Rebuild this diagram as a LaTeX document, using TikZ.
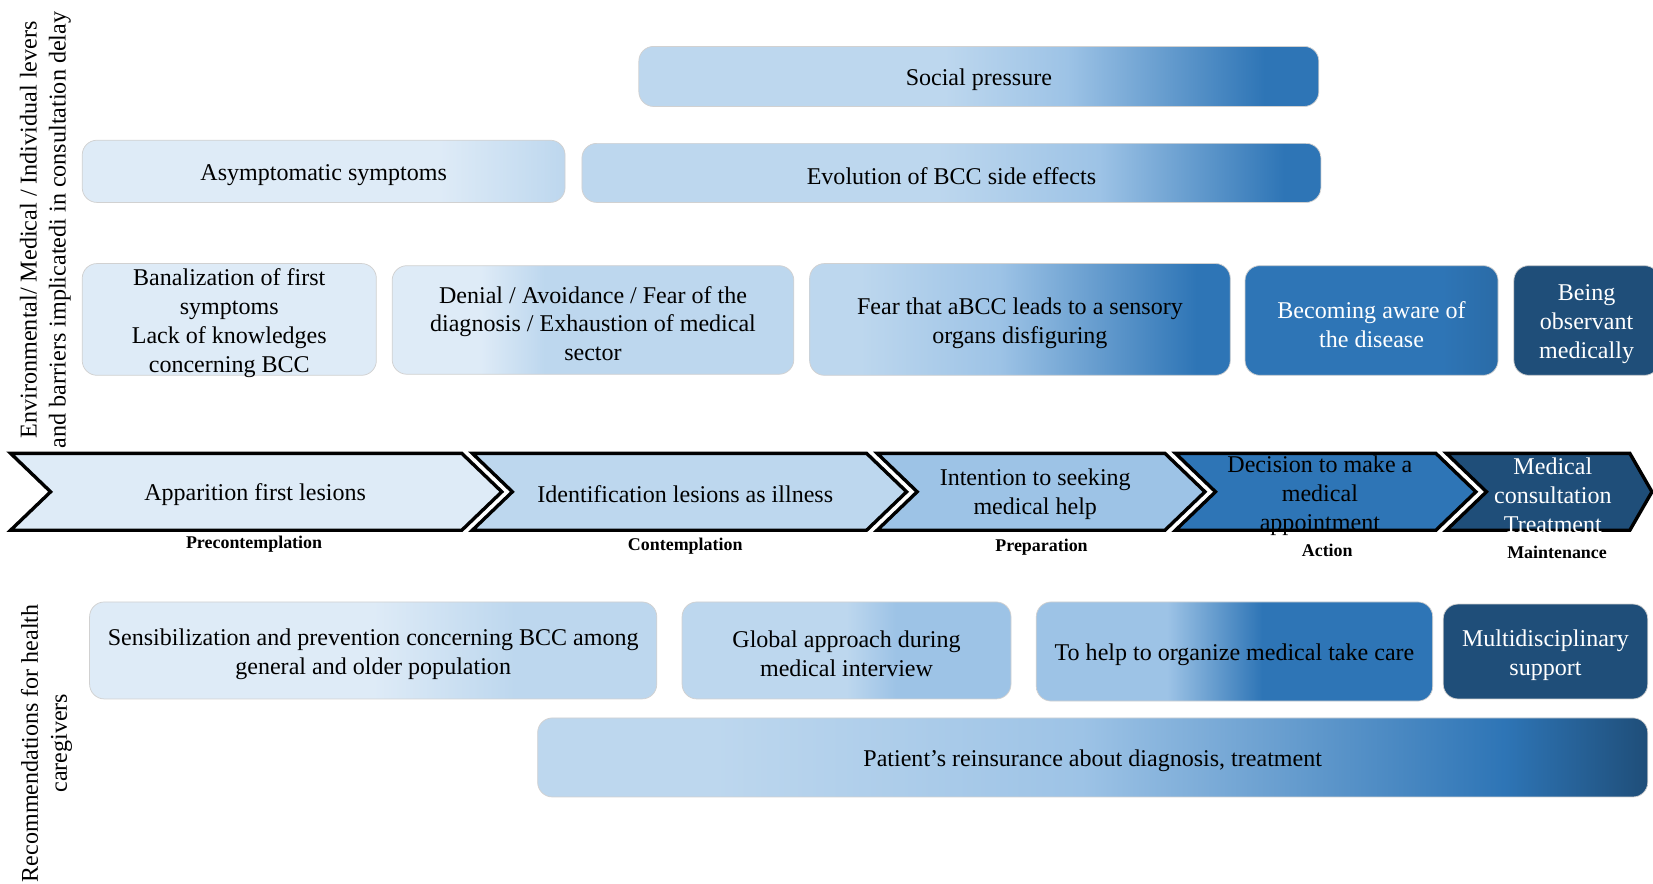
\documentclass[tikz,border=0pt]{standalone}
\usepackage{fontspec}
\setmainfont{Liberation Serif}
\definecolor{c1}{HTML}{DEEBF7}
\definecolor{c2}{HTML}{BDD7EE}
\definecolor{c3}{HTML}{9DC3E6}
\definecolor{c4}{HTML}{2E75B6}
\definecolor{c5}{HTML}{1F4E79}
\colorlet{c45}{c4!75!c5}
\pgfdeclarehorizontalshading{shsocial}{100bp}{color(0bp)=(c2); color(47.5bp)=(c2); color(56.5bp)=(c3); color(71bp)=(c4); color(100bp)=(c4)}
\pgfdeclarehorizontalshading{shasym}{100bp}{color(0bp)=(c1); color(62bp)=(c1); color(75bp)=(c2); color(100bp)=(c2)}
\pgfdeclarehorizontalshading{shevol}{100bp}{color(0bp)=(c2); color(49bp)=(c2); color(60bp)=(c3); color(72.5bp)=(c4); color(100bp)=(c4)}
\pgfdeclarehorizontalshading{shdenial}{100bp}{color(0bp)=(c1); color(36bp)=(c1); color(44bp)=(c2); color(100bp)=(c2)}
\pgfdeclarehorizontalshading{shfear}{100bp}{color(0bp)=(c2); color(31bp)=(c2); color(47.5bp)=(c3); color(71bp)=(c4); color(100bp)=(c4)}
\pgfdeclarehorizontalshading{shbecome}{100bp}{color(0bp)=(c4); color(64bp)=(c4); color(75bp)=(c45); color(100bp)=(c45)}
\pgfdeclarehorizontalshading{shsens}{100bp}{color(0bp)=(c1); color(50bp)=(c1); color(62.5bp)=(c2); color(100bp)=(c2)}
\pgfdeclarehorizontalshading{shglobal}{100bp}{color(0bp)=(c2); color(50bp)=(c2); color(57.5bp)=(c3); color(100bp)=(c3)}
\pgfdeclarehorizontalshading{shhelp}{100bp}{color(0bp)=(c3); color(41.5bp)=(c3); color(53.5bp)=(c4); color(100bp)=(c4)}
\pgfdeclarehorizontalshading{shpatient}{100bp}{color(0bp)=(c2); color(33bp)=(c2); color(49.5bp)=(c3); color(68.5bp)=(c4); color(75bp)=(c5); color(100bp)=(c5)}
\newcommand\boxtext[3]{\node[txt, #3] (#1t) at ([yshift=-3.5pt]#1.center) {#2};}
\begin{document}
\begin{tikzpicture}[x=1pt,y=-1pt,
  box/.style={rounded corners=14pt, draw=black!18, line width=0.7pt, inner sep=0pt},
  txt/.style={align=center, inner sep=0pt, font=\fontsize{22.8}{27.5}\selectfont},
  chev/.style={draw=black, line width=3.2pt, line join=miter},
  chevtext/.style={align=center, inner sep=0pt, font=\fontsize{22.8}{27.5}\selectfont},
  stage/.style={inner sep=0pt, font=\fontsize{17}{20}\selectfont\bfseries},
  side/.style={rotate=90, align=center, inner sep=0pt}]
\useasboundingbox (0,0) rectangle (1568,838);
\clip (0,0) rectangle (1568,838);
% side labels
\node[side, font=\fontsize{22.9}{27.5}\selectfont] (sideA) at (43,218) {Environmental/ Medical / Individual levers\\and barriers implicatedi in consultation delay};
\node[side, font=\fontsize{22.8}{27.5}\selectfont] (sideB) at (44,705) {Recommendations for health\\caregivers};
% top rows
\node[box, shading=shsocial, minimum width=645pt, minimum height=57pt] (social) at (928.5,72.5) {};
\boxtext{social}{Social pressure}{}
\node[box, shading=shasym, minimum width=458pt, minimum height=59pt] (asym) at (307,162.5) {};
\boxtext{asym}{Asymptomatic symptoms}{}
\node[box, shading=shevol, minimum width=701pt, minimum height=56pt] (evol) at (902.5,164) {};
\boxtext{evol}{Evolution of BCC side effects}{}
\node[box, fill=c1, minimum width=279pt, minimum height=106pt] (banal) at (217.5,303) {};
\boxtext{banal}{Banalization of first\\symptoms\\Lack of knowledges\\concerning BCC}{}
\node[box, shading=shdenial, minimum width=381pt, minimum height=103pt] (denial) at (562.5,303.5) {};
\boxtext{denial}{Denial / Avoidance / Fear of the\\diagnosis / Exhaustion of medical\\sector}{}
\node[box, shading=shfear, minimum width=399pt, minimum height=106pt] (fear) at (967.5,303) {};
\boxtext{fear}{Fear that aBCC leads to a sensory\\organs disfiguring}{}
\node[box, shading=shbecome, minimum width=240pt, minimum height=104pt] (become) at (1301,304) {};
\boxtext{become}{Becoming aware of\\the disease}{text=white}
\node[box, fill=c5, minimum width=138pt, minimum height=104pt] (being) at (1505,304) {};
\boxtext{being}{Being\\observant\\medically}{text=white}
% chevrons
\draw[chev, fill=c1] (10,430) -- (438,430) -- (476,466.5) -- (438,503) -- (10,503) -- (48,466.5) -- cycle;
\draw[chev, fill=c2] (448,430) -- (822,430) -- (860,466.5) -- (822,503) -- (448,503) -- (486,466.5) -- cycle;
\draw[chev, fill=c3] (832,430) -- (1105,430) -- (1143,466.5) -- (1105,503) -- (832,503) -- (870,466.5) -- cycle;
\draw[chev, fill=c4] (1115,430) -- (1362,430) -- (1400,466.5) -- (1362,503) -- (1115,503) -- (1153,466.5) -- cycle;
\draw[chev, fill=c5] (1372,430) -- (1546,430) -- (1567,466.5) -- (1546,503) -- (1372,503) -- (1410,466.5) -- cycle;
\node[chevtext] (ch1) at (242,469) {Apparition first lesions};
\node[chevtext] (ch2) at (650,469) {Identification lesions as illness};
\node[chevtext] (ch3) at (982,468.5) {Intention to seeking\\medical help};
\node[chevtext] (ch4) at (1252,470) {Decision to make a\\medical\\appointment};
\node[chevtext, text=white] (ch5) at (1473,470) {Medical\\consultation\\Treatment};
% stages
\node[stage] (st1) at (241,516) {Precontemplation};
\node[stage] (st2) at (650,518) {Contemplation};
\node[stage] (st3) at (988,519) {Preparation};
\node[stage] (st4) at (1259,522) {Action};
\node[stage] (st5) at (1477,524) {Maintenance};
% recommendations
\node[box, shading=shsens, minimum width=538pt, minimum height=92pt] (sens) at (354,617) {};
\boxtext{sens}{Sensibilization and prevention concerning BCC among\\general and older population}{}
\node[box, shading=shglobal, minimum width=312pt, minimum height=92pt] (global) at (803,617) {};
\boxtext{global}{Global approach during\\medical interview}{}
\node[box, shading=shhelp, minimum width=376pt, minimum height=94pt] (help) at (1171,618) {};
\boxtext{help}{To help to organize medical take care}{}
\node[box, fill=c5, minimum width=194pt, minimum height=90pt] (multi) at (1466,618) {};
\boxtext{multi}{Multidisciplinary\\support}{text=white}
\node[box, shading=shpatient, minimum width=1053pt, minimum height=75pt] (patient) at (1036.5,718.5) {};
\boxtext{patient}{Patient’s reinsurance about diagnosis, treatment}{}
\end{tikzpicture}
\end{document}
